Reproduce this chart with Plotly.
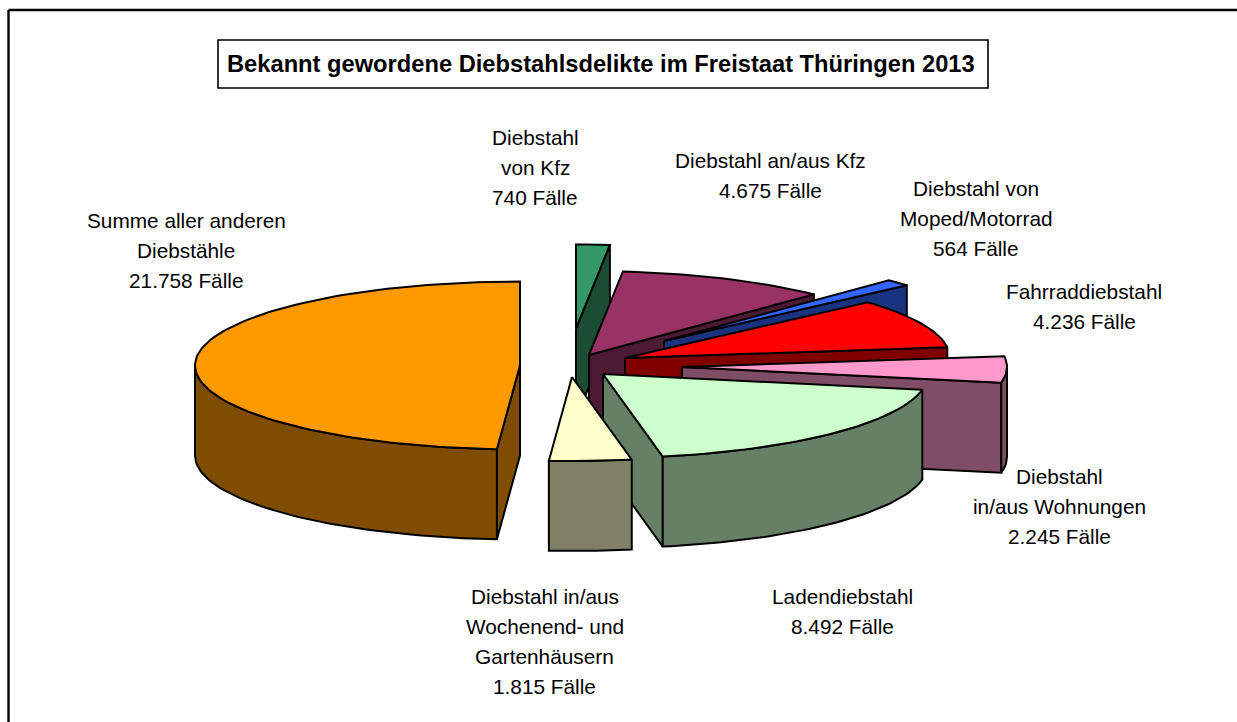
import math
import plotly.graph_objects as go

# ---- data ----
categories = [
    "Summe aller anderen Diebstähle",
    "Diebstahl von Kfz",
    "Diebstahl an/aus Kfz",
    "Diebstahl von Moped/Motorrad",
    "Fahrraddiebstahl",
    "Diebstahl in/aus Wohnungen",
    "Ladendiebstahl",
    "Diebstahl in/aus Wochenend- und Gartenhäusern",
]
cases = [21758, 740, 4675, 564, 4236, 2245, 8492, 1815]
title_text = "Bekannt gewordene Diebstahlsdelikte im Freistaat Thüringen 2013"
label_lines = [
    ["Summe aller anderen", "Diebstähle"],
    ["Diebstahl", "von Kfz"],
    ["Diebstahl an/aus Kfz"],
    ["Diebstahl von", "Moped/Motorrad"],
    ["Fahrraddiebstahl"],
    ["Diebstahl", "in/aus Wohnungen"],
    ["Ladendiebstahl"],
    ["Diebstahl in/aus", "Wochenend- und", "Gartenhäusern"],
]

# ---- styling / layout of the exploded 3-D pie ----
top_colors = ["#FF9900", "#339966", "#993366", "#3366FF", "#FF0000", "#FF99CC", "#CCFFCC", "#FFFFCC"]
side_colors = ["#804D00", "#1A4D33", "#4D1A33", "#1A3380", "#800000", "#804D66", "#668066", "#808066"]
apex_positions = [(520, 365.5), (576, 328.5), (589, 355), (664, 341), (625, 358), (682, 367), (603, 374), (572, 377)]
label_anchor = [(186, 220), (535, 137), (770, 160), (976, 188), (1084, 291), (1059, 476), (842.5, 596), (544.5, 596)]
RX, RY, DEPTH = 325, 84, 90
LINE_STEP = 30
FONT = "Liberation Sans, Arial, sans-serif"
LW = 2

total = sum(cases)
# slice angles, clockwise from 12 o'clock; the big slice comes last on the circle
order_on_circle = [1, 2, 3, 4, 5, 6, 7, 0]
start_angle, end_angle = {}, {}
acc = 0.0
for i in order_on_circle:
    start_angle[i] = acc
    acc += cases[i] / total * 360
    end_angle[i] = acc


def rim_point(apex, deg):
    r = math.radians(deg)
    return apex[0] + RX * math.sin(r), apex[1] - RY * math.cos(r)


def arc(apex, a0, a1):
    n = max(2, int(abs(a1 - a0) / 1.5) + 1)
    return [rim_point(apex, a0 + (a1 - a0) * k / (n - 1)) for k in range(n)]


fig = go.Figure()


def poly(points, fill):
    xs = [p[0] for p in points] + [points[0][0]]
    ys = [p[1] for p in points] + [points[0][1]]
    fig.add_trace(go.Scatter(x=xs, y=ys, mode="lines", fill="toself", fillcolor=fill,
                             line=dict(color="black", width=LW, shape="linear"),
                             hoverinfo="skip", showlegend=False))


def drop(points):
    return [(x, y + DEPTH) for x, y in points]


for i in range(len(cases)):
    apex = apex_positions[i]
    a0, a1 = start_angle[i], end_angle[i]
    # radial walls that face the viewer
    if math.sin(math.radians(a1)) > 1e-3:
        edge = [apex, rim_point(apex, a1)]
        poly(edge + drop(edge)[::-1], side_colors[i])
    if math.sin(math.radians(a0)) < -1e-3:
        edge = [apex, rim_point(apex, a0)]
        poly(edge + drop(edge)[::-1], side_colors[i])
    # outer rim where it faces the viewer
    v0, v1 = max(a0, 90), min(a1, 270)
    if v1 > v0:
        rim = arc(apex, v0, v1)
        poly(rim + drop(rim)[::-1], side_colors[i])
    # top face
    poly([apex] + arc(apex, a0, a1), top_colors[i])

# labels, one annotation per line so the spacing matches
for i in range(len(cases)):
    lines = label_lines[i] + [f"{cases[i]:,}".replace(",", ".") + " Fälle"]
    cx, cy = label_anchor[i]
    for k, text in enumerate(lines):
        fig.add_annotation(x=cx, y=cy + k * LINE_STEP, text=text, showarrow=False,
                           xanchor="center", yanchor="middle",
                           font=dict(family=FONT, size=20.8, color="black"))

fig.add_annotation(x=600.5, y=63.5, text=f"<b>{title_text}</b>", showarrow=False,
                   xanchor="center", yanchor="middle",
                   font=dict(family=FONT, size=23.7, color="black"))

shapes = [
    dict(type="rect", x0=218, x1=988, y0=40, y1=88, line=dict(color="black", width=1.6), fillcolor="rgba(0,0,0,0)"),
    dict(type="line", x0=8.5, x1=8.5, y0=10, y1=722, line=dict(color="black", width=2.4)),
    dict(type="line", x0=8.5, x1=1237, y0=10, y1=10, line=dict(color="black", width=2.4)),
]

fig.update_layout(
    width=1237, height=722, autosize=False,
    margin=dict(l=0, r=0, t=0, b=0),
    paper_bgcolor="white", plot_bgcolor="white",
    showlegend=False, shapes=shapes,
    xaxis=dict(range=[0, 1237], visible=False, fixedrange=True),
    yaxis=dict(range=[722, 0], visible=False, fixedrange=True),
)

fig.write_html("out.html", config={"displayModeBar": False},
               post_script="document.body.style.margin='0';document.body.style.overflow='hidden';")
